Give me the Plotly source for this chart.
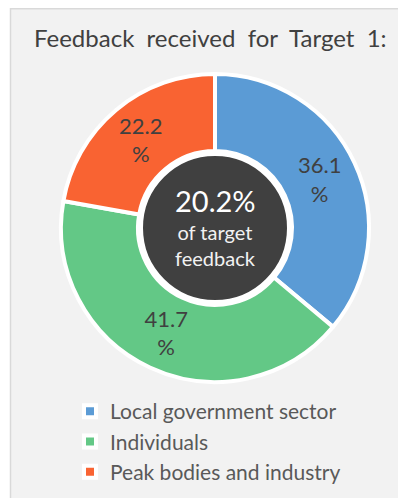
import plotly.graph_objects as go

categories = ["Local government sector", "Individuals", "Peak bodies and industry"]
values = [36.1, 41.7, 22.2]
colors = ["#5B9BD5", "#63C886", "#F96332"]
center_value = "20.2%"
center_caption = "of target<br>feedback"
title_text = "Feedback&nbsp;&nbsp;received&nbsp;&nbsp;for&nbsp;&nbsp;Target&nbsp;&nbsp;1:"

# page body has an 8px margin, so the figure is 8px smaller than the window
W, H = 398, 490
FONT = "Lato, 'Open Sans', sans-serif"

cx, cy, R = 207, 220, 154  # pixel centre / radius in figure coords
ycb = H - cy

fig = go.Figure()
fig.add_trace(go.Pie(
    labels=categories,
    values=values,
    text=[f"{v:.1f}<br>%" for v in values],
    textinfo="text",
    textposition="inside",
    insidetextorientation="horizontal",
    textfont=dict(size=22, color="#404040", family=FONT),
    marker=dict(colors=colors, line=dict(color="white", width=4)),
    hole=0.5,
    sort=False,
    direction="clockwise",
    rotation=0,
    domain=dict(x=[(cx - R) / W, (cx + R) / W], y=[(ycb - R) / H, (ycb + R) / H]),
    hoverinfo="label+value",
))

r_in = 74
shapes = [
    dict(type="rect", xref="paper", yref="paper", layer="below",
         x0=2.5 / W, x1=1.05, y0=-0.05, y1=(H - 0.75) / H,
         fillcolor="#F2F2F2", line=dict(color="#D9D9D9", width=1.5)),
    dict(type="circle", xref="paper", yref="paper", layer="above",
         x0=(cx - r_in) / W, x1=(cx + r_in) / W,
         y0=(ycb - r_in) / H, y1=(ycb + r_in) / H,
         fillcolor="#404040", line=dict(color="white", width=4)),
]

annotations = [
    dict(text=title_text, x=202 / W, y=(H - 30) / H, xref="paper", yref="paper",
         showarrow=False, font=dict(size=24, color="#404040", family=FONT),
         xanchor="center", yanchor="middle"),
    dict(text=center_value, x=cx / W, y=(H - 193) / H, xref="paper", yref="paper",
         showarrow=False, font=dict(size=29, color="white", family=FONT),
         xanchor="center", yanchor="middle"),
    dict(text=center_caption, x=cx / W, y=(H - 237) / H, xref="paper", yref="paper",
         showarrow=False, font=dict(size=20, color="#F2F2F2", family=FONT),
         xanchor="center", yanchor="middle"),
]

fig.update_layout(
    width=W, height=H,
    margin=dict(l=0, r=0, t=0, b=0),
    paper_bgcolor="white",
    plot_bgcolor="#F2F2F2",
    shapes=shapes,
    annotations=annotations,
    showlegend=True,
    legend=dict(x=62 / W, y=(H - 383) / H, xanchor="left", yanchor="top",
                font=dict(size=21, color="#595959", family=FONT),
                bgcolor="rgba(0,0,0,0)", traceorder="normal", itemwidth=30),
)

fig.write_html("out.html")
